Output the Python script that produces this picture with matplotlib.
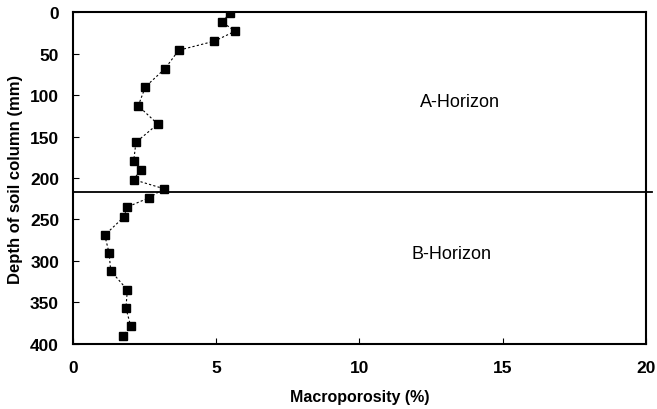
import matplotlib.pyplot as plt

# depth profile of macroporosity
macroporosity = [5.48, 5.21, 5.66, 4.94, 3.69, 3.22, 2.53, 2.28, 2.96, 2.20, 2.12, 2.37, 2.12, 3.18,
                 2.65, 1.90, 1.78, 1.11, 1.26, 1.32, 1.90, 1.85, 2.02, 1.74]
depth = [1, 12, 23, 35, 46, 68, 90, 113, 135, 157, 180, 190, 202, 213,
         224, 235, 247, 269, 290, 312, 335, 357, 379, 390]
horizon_boundary = 217
xticks = [0, 5, 10, 15, 20]
yticks = [0, 50, 100, 150, 200, 250, 300, 350, 400]

plt.rcParams['font.family'] = ['Liberation Sans', 'DejaVu Sans']

fig = plt.figure(figsize=(6.57, 4.10), dpi=100)
ax = fig.add_axes([0.111, 0.159, 0.872, 0.809])

ax.plot(macroporosity, depth, color='black', lw=0.8, dashes=(2, 2),
        marker='s', markersize=6, markerfacecolor='black', markeredgecolor='black')
ax.axhline(horizon_boundary, xmin=0, xmax=1.01, color='black', lw=1.3, clip_on=False)

ax.set_xlim(0, 20)
ax.set_ylim(400, 0)
ax.set_xticks(xticks)
ax.set_yticks(yticks)
ax.tick_params(direction='in', length=4, width=0.8, labelsize=12.5)
ax.tick_params(axis='x', pad=12)
ax.tick_params(axis='y', pad=10)
for lab in ax.get_xticklabels() + ax.get_yticklabels():
    lab.set_fontweight('bold')
for sp in ax.spines.values():
    sp.set_linewidth(1.5)

ax.set_xlabel('Macroporosity (%)', fontsize=11.5, fontweight='bold', labelpad=10)
ax.set_ylabel('Depth of soil column (mm)', fontsize=12, fontweight='bold', labelpad=5)

ax.text(13.5, 108, 'A-Horizon', fontsize=13, ha='center', va='center')
ax.text(13.2, 291, 'B-Horizon', fontsize=13, ha='center', va='center')

fig.savefig('out.png', dpi=100)
